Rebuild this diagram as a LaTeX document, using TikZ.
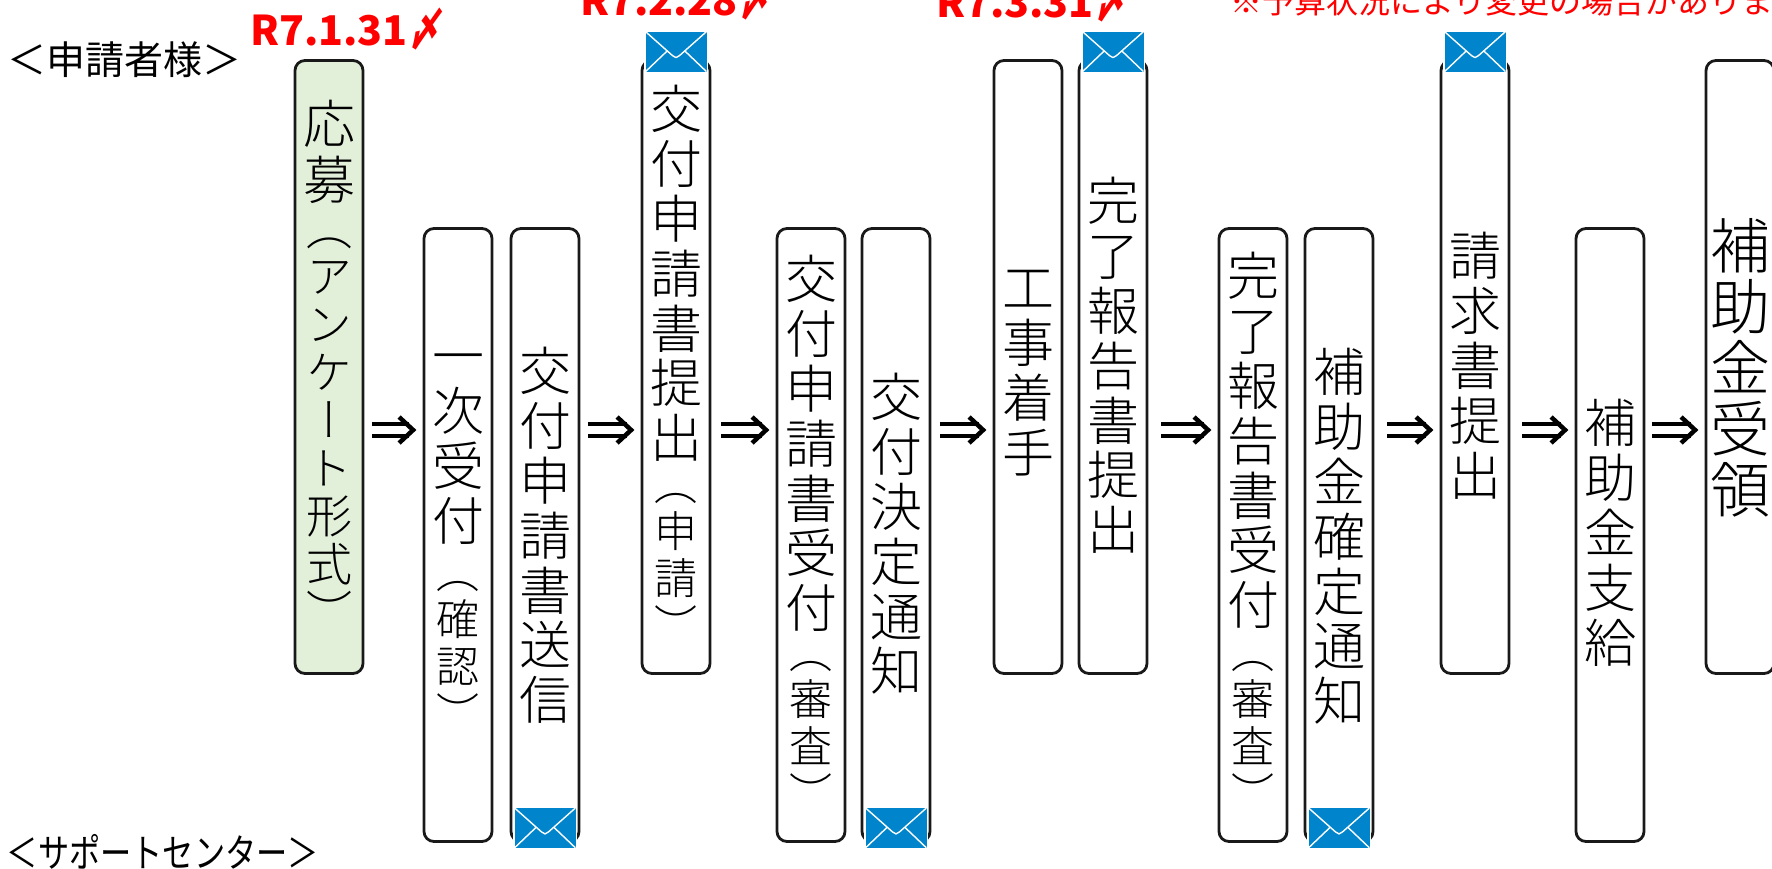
\documentclass[tikz,border=0pt]{standalone}
\usepackage{fontspec}
\usetikzlibrary{positioning}
\setmainfont{Noto Sans CJK JP}
\newfontfamily\vfont[RawFeature=+vert]{Noto Sans CJK JP Light}
\newfontfamily\slfont[FakeSlant=0.4]{Noto Sans CJK JP}
\definecolor{mailblue}{HTML}{0085CC}
\definecolor{palegreen}{HTML}{E2EFD9}
% one character per line, for the labels that run downwards
\def\vchars#1{\ifx#1\relax\else\rule{0pt}{.88em}#1\\\expandafter\vchars\fi}
\newcommand{\vtext}[1]{\expandafter\vchars#1\relax}
\tikzset{
    stagebox/.style={draw=black!90, line width=2.8pt, rounded corners=10pt, minimum width=68pt, minimum height=613pt, inner sep=0pt},
    bigtext/.style={anchor=north, inner sep=0pt, yshift=5pt, text width=66pt, align=center, font=\vfont\fontsize{52}{54.8}\selectfont},
    smalltext/.style={anchor=north, inner sep=0pt, yshift=3pt, text width=66pt, align=center, font=\vfont\fontsize{43}{47}\selectfont},
    flowline/.style={double, line width=4.5pt, double distance=7.5pt, shorten >=4pt},
    flowhead/.style={line width=4.5pt, miter limit=10},
    patch/.style={fill=white, minimum width=64pt, inner sep=0pt},
    mailicon/.style={fill=mailblue, minimum width=61pt, minimum height=40pt, inner sep=0pt,
        path picture={\draw[white, line width=1.4pt, line join=round]
            (path picture bounding box.north west) -- ++(27pt,-24pt) -- ++(3.5pt,-2pt) -- ++(3.5pt,2pt) -- (path picture bounding box.north east)
            (path picture bounding box.south west) -- ++(21pt,20pt)
            (path picture bounding box.south east) -- ++(-21pt,20pt);}},
    sidelabel/.style={inner sep=0pt, font=\fontsize{39}{39}\selectfont},
    datelabel/.style={anchor=base west, inner sep=0pt, text=red, font=\bfseries\fontsize{41}{41}\selectfont},
    datemark/.style={anchor=base west, inner sep=0pt, text=red, xscale=0.6, transform shape, font=\slfont\bfseries\fontsize{46}{46}\selectfont},
}
\begin{document}
\begin{tikzpicture}[x=1pt,y=-1pt]
    \path[use as bounding box,clip] (0,0) rectangle (1772,868);
    \coordinate (row) at (0,430);
    % Boxes
    \node[stagebox, fill=palegreen] (b1) at (329,367) {};
    \foreach \n/\x/\y in {b2/458/535, b3/545/535, b4/676/367, b5/811/535, b6/896/535, b7/1028/367, b8/1113/367, b9/1253/535, b10/1339/535, b11/1475/367, b12/1610/535, b13/1740/367} {
        \node[stagebox] (\n) at (\x,\y) {};
    }
    % Mail icons, each on a white patch
    \foreach \n in {b4,b8,b11} {
        \node[patch, minimum height=54pt, anchor=north] at ([yshift=27pt]\n.north) {};
        \node[mailicon] (m\n) at ([yshift=7.5pt]\n.north) {};
    }
    \foreach \n in {b3,b6,b10} {
        \node[patch, minimum height=67pt, anchor=south] at ([yshift=-20pt]\n.south) {};
        \node[mailicon] (m\n) at ([yshift=15pt]\n.south) {};
    }
    % Main labels
    \node[bigtext, font=\vfont\fontsize{52}{56}\selectfont] (t1) at (b1.north |- 0,103) {\vtext{応募}};
    \foreach \n/\y/\t in {b2/335/一次受付, b3/350/交付申請書送信, b4/88/交付申請書提出, b5/258/交付申請書受付, b6/376/交付決定通知, b7/267/工事着手, b8/180/完了報告書提出, b9/255/完了報告書受付, b10/351/補助金確定通知, b11/235/請求書提出, b12/402/補助金支給} {
        \node[bigtext] (t\n) at (\n.north |- 0,\y) {\vtext{\t}};
    }
    \node[bigtext, font=\vfont\fontsize{60}{61}\selectfont] (tb13) at (b13.north |- 0,220) {\vtext{補助金受領}};
    % Labels in brackets
    \node[smalltext, font=\vfont\fontsize{46}{48}\selectfont] (s1) at (b1.north |- 0,208) {\vtext{（アンケート形式）}};
    \foreach \n/\y/\t in {b2/553/（確認）, b4/465/（申請）, b5/633/（審査）, b9/633/（審査）} {
        \node[smalltext] (s\n) at (\n.north |- 0,\y) {\vtext{\t}};
    }
    % Arrows
    \foreach \a/\b/\g in {b1/b2/8, b3/b4/8, b4/b5/10, b6/b7/9, b8/b9/13, b10/b11/13, b11/b12/12, b12/b13/7} {
        \coordinate (tip) at ([xshift=-9.5pt]\b.west |- row);
        \draw[flowline, shorten <=\g pt] (\a.east |- row) -- (tip);
        \draw[flowhead] ([shift={(-14pt,-13pt)}]tip) -- (tip) -- ([shift={(-14pt,13pt)}]tip);
    }
    % Side labels
    \node[sidelabel] (applicant) at (125,60) {＜申請者様＞};
    \node[sidelabel, xscale=0.8, transform shape] (center) at (163,852) {＜サポートセンター＞};
    % Deadlines
    \foreach \n/\x/\y/\t in {d1/250/45/R7.1.31, d2/580/15/R7.2.28, d3/936/17/R7.3.31} {
        \node[datelabel] (\n) at (\x,\y) {\t};
        \node[datemark] at ([xshift=1pt]\n.base east) {〆};
    }
    \node[anchor=base west, inner sep=0pt, text=red, font=\fontsize{32}{32}\selectfont] (note) at (1230,13) {※予算状況により変更の場合があります};
\end{tikzpicture}
\end{document}
